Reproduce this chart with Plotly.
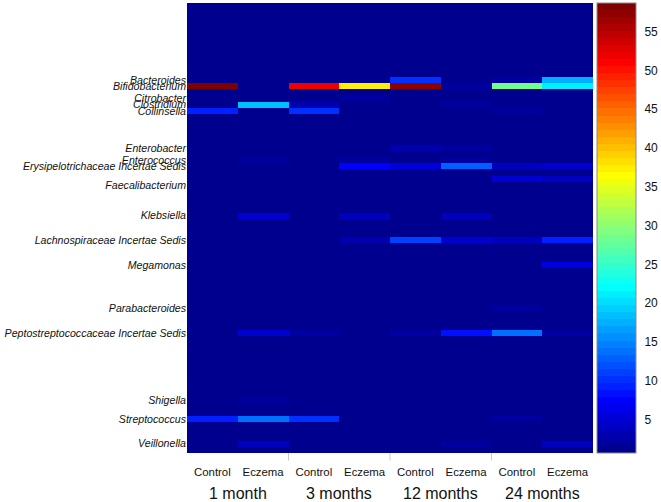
import numpy as np
import plotly.graph_objects as go

# ---------------- data ----------------
column_labels = ["Control", "Eczema", "Control", "Eczema",
                 "Control", "Eczema", "Control", "Eczema"]
group_labels = ["1 month", "3 months", "12 months", "24 months"]

n_rows = 73
background_value = 1.0

# labelled genera (row index from top)
tick_rows = [12, 13, 15, 16, 17, 23, 25, 26, 29, 34, 38, 42, 49, 53, 64, 67, 71]
tick_names = ["Bacteroides", "Bifidobacterium", "Citrobacter", "Clostridium",
              "Collinsella", "Enterobacter", "Enterococcus",
              "Erysipelotrichaceae Incertae Sedis", "Faecalibacterium",
              "Klebsiella", "Lachnospiraceae Incertae Sedis", "Megamonas",
              "Parabacteroides", "Peptostreptococcaceae Incertae Sedis",
              "Shigella", "Streptococcus", "Veillonella"]

# rows with visible abundance (row index, 8 column values)
value_rows = [12, 13, 15, 16, 17, 23, 25, 26, 28, 34, 38, 42, 49, 53, 64, 67, 71]
value_table = [
    [1.0, 1.0, 1.0, 1.0, 10.5, 1.0, 2.0, 17.5],    # Bacteroides
    [58.5, 1.0, 52.0, 37.0, 57.5, 2.5, 28.0, 21.5],  # Bifidobacterium
    [1.0, 1.0, 1.0, 2.0, 1.0, 1.0, 1.0, 1.0],      # Citrobacter
    [1.0, 18.0, 2.8, 1.0, 1.0, 2.5, 1.0, 1.0],     # Clostridium
    [9.5, 1.0, 10.5, 1.0, 1.0, 1.0, 2.0, 1.0],     # Collinsella
    [1.0, 1.0, 1.0, 1.0, 3.0, 2.5, 1.0, 1.0],      # Enterobacter
    [1.0, 2.3, 1.0, 2.0, 1.0, 2.0, 1.0, 1.0],      # Enterococcus
    [1.0, 1.0, 1.0, 7.5, 6.0, 13.0, 4.0, 4.8],     # Erysipelotrichaceae
    [1.0, 1.0, 1.0, 1.0, 1.0, 1.0, 5.0, 4.0],      # (unlabelled)
    [1.0, 4.5, 1.0, 3.5, 1.0, 4.0, 1.0, 1.0],      # Klebsiella
    [1.0, 1.0, 1.0, 3.0, 11.0, 5.0, 3.5, 9.0],     # Lachnospiraceae
    [1.0, 1.0, 1.0, 1.0, 1.0, 1.0, 1.0, 6.0],      # Megamonas
    [1.0, 1.0, 1.0, 1.0, 1.0, 1.0, 2.5, 1.0],      # Parabacteroides
    [1.0, 4.5, 2.3, 1.0, 2.3, 8.5, 13.5, 2.0],     # Peptostreptococcaceae
    [1.0, 2.5, 1.0, 1.0, 1.0, 1.0, 1.0, 1.0],      # Shigella
    [9.5, 13.5, 10.0, 1.0, 1.0, 1.0, 2.3, 1.0],    # Streptococcus
    [1.0, 4.0, 1.0, 1.0, 1.0, 2.5, 1.0, 4.0],      # Veillonella
]
color_min = 0.7
color_max = 58.7
colorbar_ticks = [5, 10, 15, 20, 25, 30, 35, 40, 45, 50, 55]

# ---------------- build matrix ----------------
z = np.full((n_rows, len(column_labels)), background_value)
for r, vals in zip(value_rows, value_table):
    z[r, :] = vals


# MATLAB-style jet(64) as a stepped colorscale
def jet(m=64):
    n = int(np.ceil(m / 4))
    u = np.concatenate([np.arange(1, n + 1) / n, np.ones(n - 1), np.arange(n, 0, -1) / n])
    g = int(np.ceil(n / 2)) - (1 if m % 4 == 1 else 0) + np.arange(1, len(u) + 1)
    r = g + n
    b = g - n
    J = np.zeros((m, 3))
    for idx, (rr, gg, bb) in enumerate(zip(r, g, b)):
        if 1 <= rr <= m:
            J[rr - 1, 0] = u[idx]
        if 1 <= gg <= m:
            J[gg - 1, 1] = u[idx]
        if 1 <= bb <= m:
            J[bb - 1, 2] = u[idx]
    return J


cmap = jet(64)
colorscale = []
for i, c in enumerate(cmap):
    col = "rgb(%d,%d,%d)" % tuple(int(round(v * 255)) for v in c)
    colorscale.append([i / 64, col])
    colorscale.append([(i + 1) / 64, col])

font_family = "Liberation Sans, Arial, sans-serif"

fig = go.Figure(go.Heatmap(
    z=z,
    x=list(range(len(column_labels))),
    y=list(range(n_rows)),
    zmin=color_min, zmax=color_max,
    colorscale=colorscale,
    showscale=True,
    colorbar=dict(
        x=1.008, xanchor="left", xpad=0,
        y=0.5, yanchor="middle", len=1.0, lenmode="fraction", ypad=0,
        thickness=39, thicknessmode="pixels",
        outlinecolor="#8a8a8a", outlinewidth=1,
        tickvals=colorbar_ticks, ticks="outside", ticklen=6,
        tickcolor="rgba(0,0,0,0)",
        tickfont=dict(family=font_family, size=12, color="#111"),
    ),
))

fig.update_xaxes(
    tickvals=list(range(len(column_labels))), ticktext=column_labels,
    tickfont=dict(family=font_family, size=11.4, color="#111"),
    ticks="", showgrid=False, zeroline=False, showline=False,
    range=[-0.5, len(column_labels) - 0.5], ticklabelstandoff=11,
)
fig.update_yaxes(
    tickvals=tick_rows, ticktext=["<i>%s</i>" % t for t in tick_names],
    tickfont=dict(family=font_family, size=10.6, color="#111"),
    ticks="", showgrid=False, zeroline=False, showline=False,
    range=[n_rows - 0.5, -0.5],
)

# group labels
for gi, g in enumerate(group_labels):
    fig.add_annotation(
        x=2 * gi + 0.5, y=-0.089, xref="x", yref="paper",
        text=g, showarrow=False, yanchor="middle", xanchor="center",
        font=dict(family=font_family, size=16, color="#111"),
    )
# group separator ticks
for gi in range(1, len(group_labels)):
    fig.add_shape(type="line", xref="x", yref="paper",
                  x0=2 * gi - 0.5, x1=2 * gi - 0.5, y0=0, y1=-0.017,
                  line=dict(color="#cccccc", width=1))

fig.update_layout(
    width=661, height=502,
    margin=dict(l=187, r=67, t=3, b=49),
    paper_bgcolor="white", plot_bgcolor="white",
    font=dict(family=font_family),
)

fig.write_html("out.html",
               config={"displayModeBar": False},
               post_script="document.body.style.margin='0';"
                           "document.body.style.overflow='hidden';")
